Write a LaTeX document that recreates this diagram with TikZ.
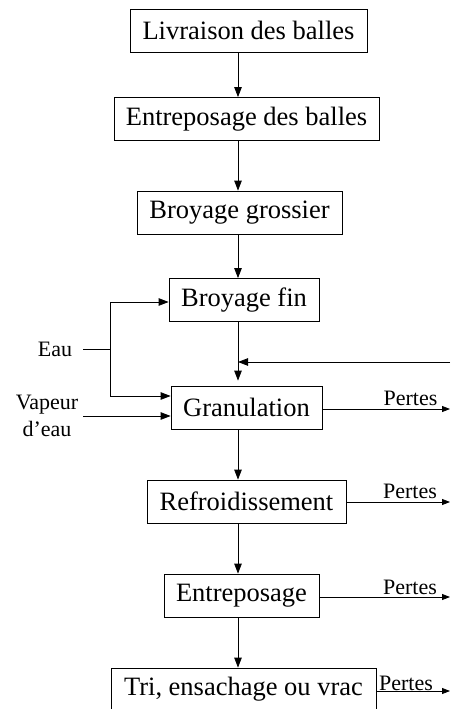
\documentclass[tikz,border=0pt]{standalone}
\usepackage{fontspec}
\setmainfont{Liberation Serif}
\usetikzlibrary{arrows.meta}
\begin{document}
\begin{tikzpicture}[x=1pt,y=-1pt,
  stepbox/.style={draw, line width=0.8pt, minimum height=43pt, inner xsep=0pt, inner ysep=0pt,
    font=\fontsize{26.5}{30}\selectfont},
  lbl/.style={font=\fontsize{22}{27}\selectfont, inner sep=0pt},
  arr/.style={line width=0.8pt, -{Triangle[length=10pt,width=7.5pt]}},
  arrs/.style={line width=0.8pt, -{Triangle[length=8pt,width=6pt]}}]
\useasboundingbox (0,0) rectangle (450,709);
\coordinate (axis) at (238,0);
\node[stepbox, minimum width=237pt] (n1) at (248.5,30.5) {Livraison des balles};
\node[stepbox, minimum width=265pt] (n2) at (246.5,119) {Entreposage des balles};
\node[stepbox, minimum width=205pt] (n3) at (239.5,212.5) {Broyage grossier};
\node[stepbox, minimum width=150pt] (n4) at (244,300) {Broyage fin};
\node[stepbox, minimum width=151pt] (n5) at (246.5,407.5) {Granulation};
\node[stepbox, minimum width=199pt] (n6) at (246.5,501.5) {Refroidissement};
\node[stepbox, minimum width=155pt] (n7) at (241.5,595.5) {Entreposage};
\node[stepbox, minimum width=265pt] (n8) at (243.5,689.5) {Tri, ensachage ou vrac};
\draw[arr] (n1.south -| axis) -- (n2.north -| axis);
\draw[arr] (n2.south -| axis) -- (n3.north -| axis);
\draw[arr] (n3.south -| axis) -- (n4.north -| axis);
\draw[arr] (n4.south -| axis) -- ([yshift=5pt]n5.north -| axis);
\draw[arr] (n5.south -| axis) -- (n6.north -| axis);
\draw[arr] (n6.south -| axis) -- (n7.north -| axis);
\draw[arr] (n7.south -| axis) -- (n8.north -| axis);
% Eau
\node[lbl, anchor=base] (eau) at (55,356) {Eau};
\coordinate (es) at (83,349);
\coordinate (ej) at (110,349);
\draw[line width=0.8pt] (es) -- (ej);
\draw[arr] (ej) |- ([yshift=-2pt]n4.west);
\draw[arr] (ej) |- ([yshift=11.5pt]n5.west);
% Vapeur
\node[lbl, align=center] (vap) at (47,416) {Vapeur\\d’eau};
\coordinate (vs) at (83,416);
\draw[arr] (vs) -- (vs -| n5.west);
% feedback
\coordinate (fb) at (450,362);
\draw[arr] (fb) -- (fb -| axis);
% Pertes
\coordinate (p5) at (450,409);
\coordinate (p6) at (450,502);
\coordinate (p7) at (450,597);
\coordinate (p8) at (450,691);
\draw[arrs] (p5 -| n5.east) -- (p5);
\draw[arrs] (p6 -| n6.east) -- (p6);
\draw[arrs] (p7 -| n7.east) -- (p7);
\draw[arrs] (p8 -| n8.east) -- (p8);
\node[lbl, anchor=base] (t5) at (410.5,405) {Pertes};
\node[lbl, anchor=base] (t6) at (410,498) {Pertes};
\node[lbl, anchor=base] (t7) at (410,594) {Pertes};
\node[lbl, anchor=base] (t8) at (406,690) {Pertes};
\end{tikzpicture}
\end{document}
